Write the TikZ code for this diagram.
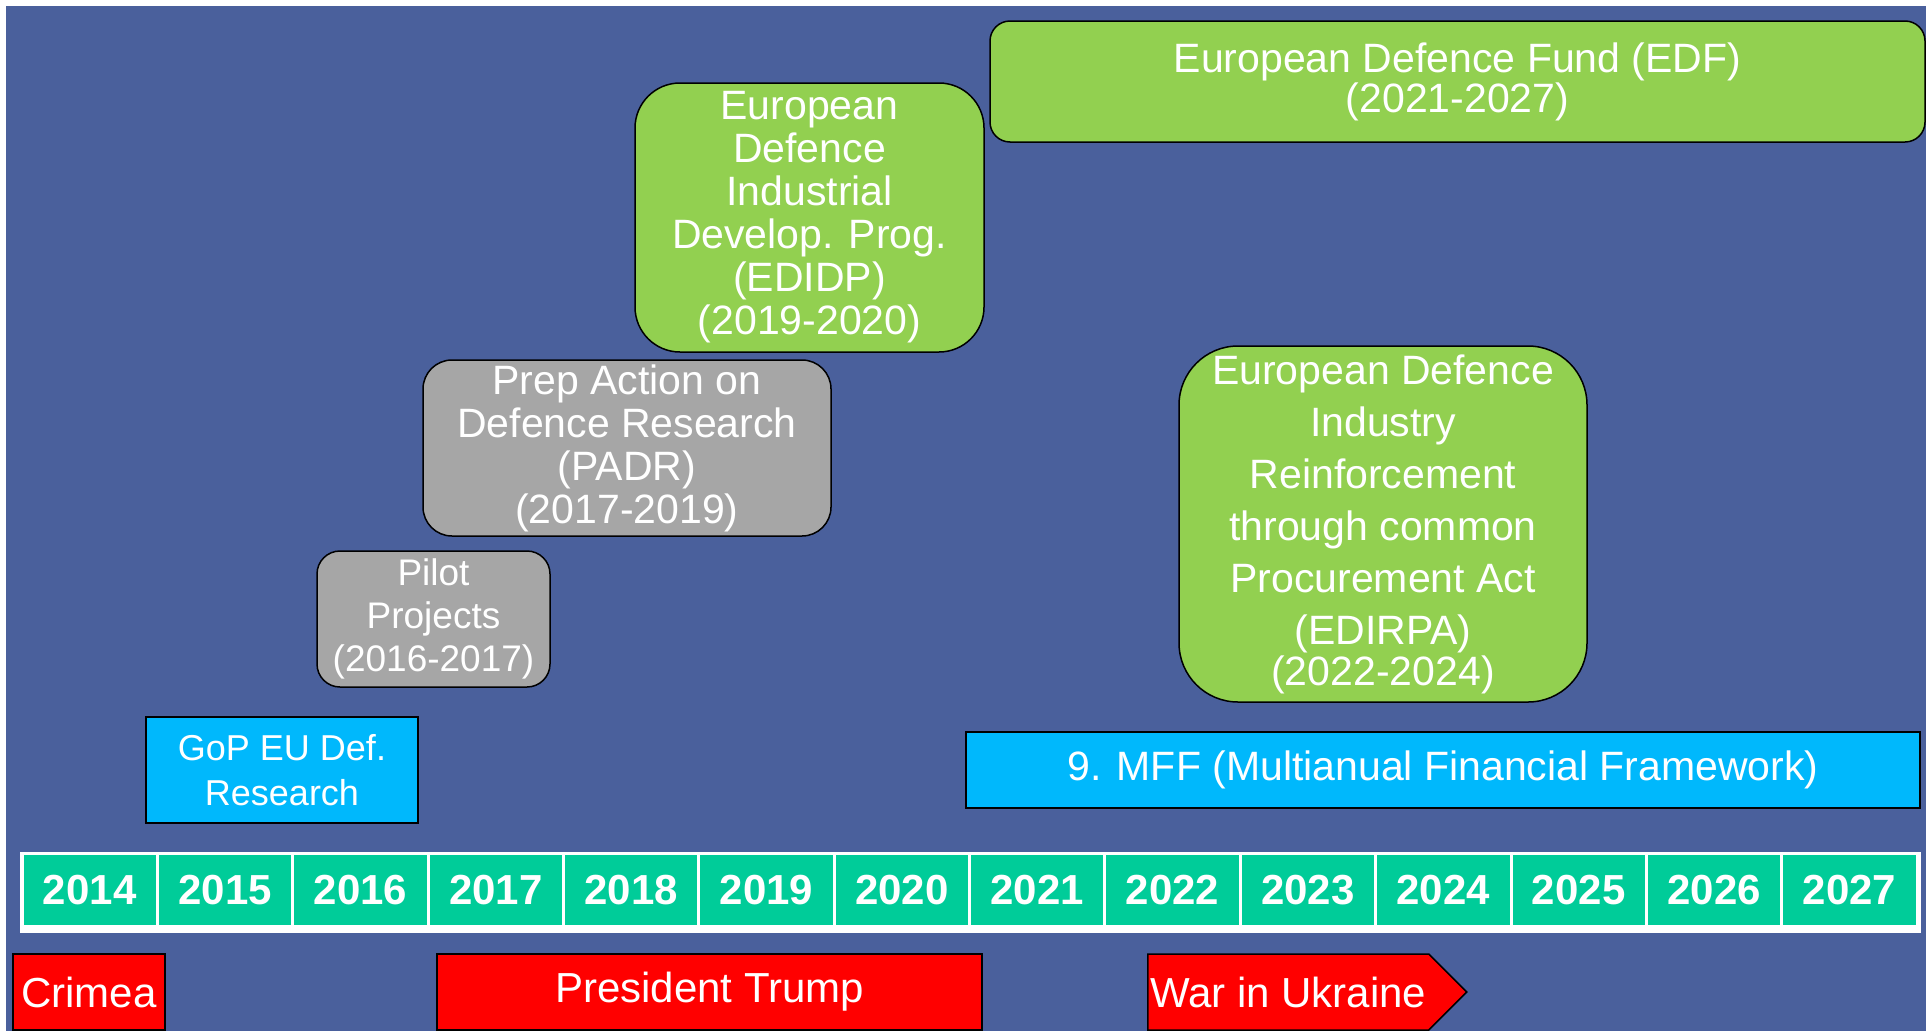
\documentclass[tikz,border=0pt]{standalone}
\usepackage{fontspec}
\setmainfont{Liberation Sans}
\usetikzlibrary{positioning,shapes.symbols}

\definecolor{slide}{RGB}{74,96,156}
\definecolor{yearcol}{RGB}{0,204,153}
\definecolor{lightgreen}{RGB}{146,208,80}
\definecolor{lightgrey}{RGB}{166,166,166}
\definecolor{skyblue}{RGB}{0,184,252}

\begin{document}
\begin{tikzpicture}[%
    x=1pt, y=-1pt,
    node distance=135.36pt,
    on grid,
    year/.style={fill=yearcol, draw=white, line width=3pt, inner sep=0pt,
        minimum width=135.36pt, minimum height=73pt, text=white,
        font=\bfseries\fontsize{42}{44}\selectfont},
    box/.style={draw=black, line width=1.5pt, inner sep=0pt, text=white,
        align=center, font=\fontsize{41}{43}\selectfont},
    greenbox/.style={box, fill=lightgreen},
    greybox/.style={box, fill=lightgrey},
    bluebox/.style={box, fill=skyblue},
    event/.style={box, fill=red, minimum height=76pt, font=\fontsize{42}{44}\selectfont}
    ]
    \useasboundingbox (0,0) rectangle (1926,1031);
    \fill[white] (0,0) rectangle (1926,1031);
    \fill[slide] (6,6) rectangle (1926,1031);
    \fill[white] (20,852) rectangle (1921,933);

    % timeline
    \node[year] (2014) at (89.7,890) {2014};
    \node[year] (2015) [right of=2014] {2015};
    \node[year] (2016) [right of=2015] {2016};
    \node[year] (2017) [right of=2016] {2017};
    \node[year] (2018) [right of=2017] {2018};
    \node[year] (2019) [right of=2018] {2019};
    \node[year] (2020) [right of=2019] {2020};
    \node[year] (2021) [right of=2020] {2021};
    \node[year] (2022) [right of=2021] {2022};
    \node[year] (2023) [right of=2022] {2023};
    \node[year] (2024) [right of=2023] {2024};
    \node[year] (2025) [right of=2024] {2025};
    \node[year] (2026) [right of=2025] {2026};
    \node[year] (2027) [right of=2026] {2027};

    % programmes
    \node[greenbox, rounded corners=20pt, minimum width=935pt, minimum height=121pt,
        font=\fontsize{41}{40}\selectfont] (edf) at (1457.5,81.5)
        {European Defence Fund (EDF)\\(2021-2027)};
    \node[greenbox, rounded corners=45pt, minimum width=349pt, minimum height=269pt]
        (edidp) at (809.5,217.5)
        {European\\Defence\\Industrial\\Develop. Prog.\\(EDIDP)\\(2019-2020)};
    \node[greybox, rounded corners=29pt, minimum width=408pt, minimum height=176pt]
        (padr) at (627,448)
        {Prep Action on\\Defence Research\\(PADR)\\(2017-2019)};
    \node[greybox, rounded corners=23pt, minimum width=233pt, minimum height=136pt,
        font=\fontsize{37}{43}\selectfont] (pilot) at (433.5,619)
        {Pilot\\Projects\\(2016-2017)};
    \node[bluebox, minimum width=272pt, minimum height=106pt,
        font=\fontsize{36}{45}\selectfont] (gop) at (282,770)
        {GoP EU Def.\\Research};
    \node[greenbox, rounded corners=59pt, minimum width=408pt, minimum height=356pt,
        font=\fontsize{41}{52}\selectfont] (edirpa) at (1383,524)
        {European Defence\\Industry\\Reinforcement\\through common\\Procurement Act\\(EDIRPA)\\[-11pt](2022-2024)};
    \node[bluebox, minimum width=954pt, minimum height=76pt] (mff) at (1443,770)
        {9. MFF (Multianual Financial Framework)};

    % events
    \node[event, minimum width=152pt] (crimea) at (89,992) {Crimea};
    \node[event, minimum width=545pt] (trump) at (709.5,992) {President Trump};
    \node[event, shape=signal, signal to=east, signal pointer angle=90,
        minimum width=319pt, anchor=west] (war) at (1147,992) {War in Ukraine};

\end{tikzpicture}
\end{document}
